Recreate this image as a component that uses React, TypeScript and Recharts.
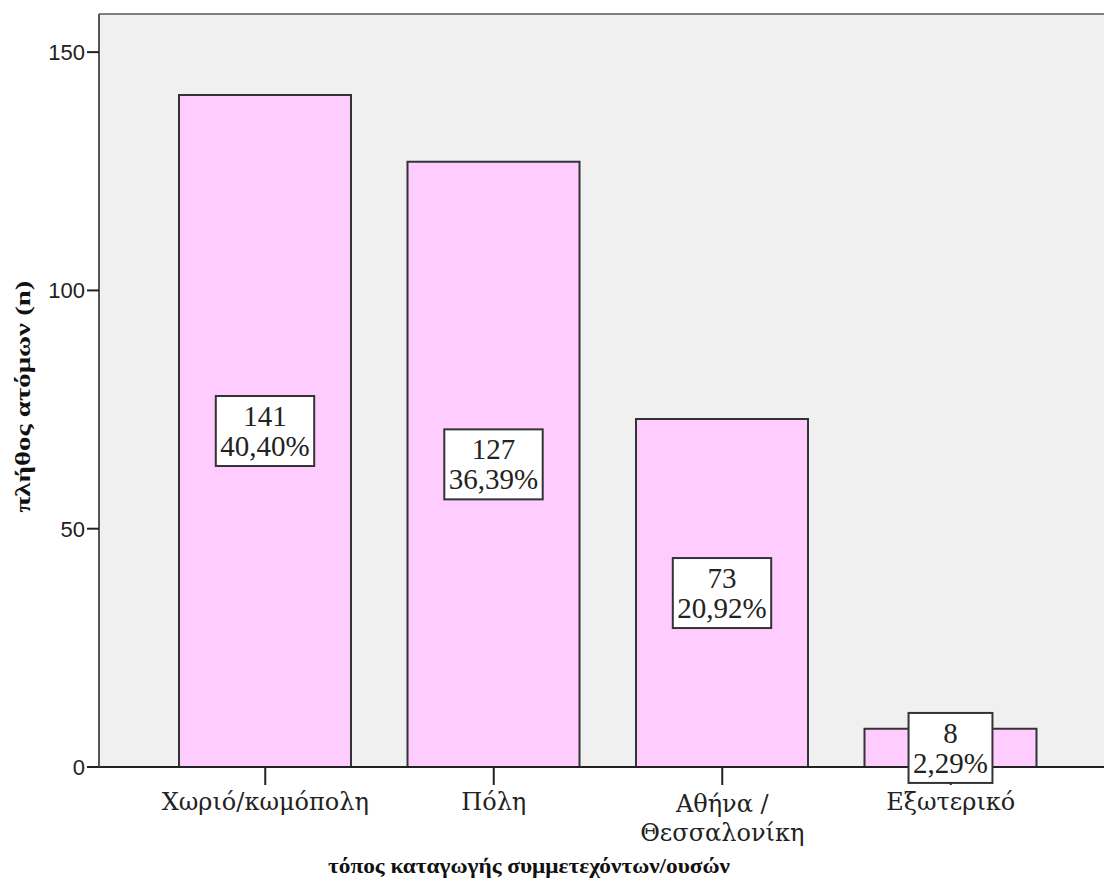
import React from "react";
import { BarChart, Bar, XAxis, YAxis, CartesianGrid, LabelList, Label, ReferenceLine } from "recharts";

// values
const categories = ["Χωριό/κωμόπολη", "Πόλη", "Αθήνα /\nΘεσσαλονίκη", "Εξωτερικό"];
const counts = [141, 127, 73, 8];
const percents = ["40,40%", "36,39%", "20,92%", "2,29%"];
const yTicks = [0, 50, 100, 150];

const data = categories.map((c, i) => ({ place: c, n: counts[i], pct: percents[i] }));

const SERIF = "'Liberation Serif', 'Times New Roman', serif";
const WIDE_SERIF = "'DejaVu Serif', 'Liberation Serif', serif";
const NARROW = "'Liberation Sans Narrow', 'Arial Narrow', Arial, sans-serif";
const LABEL_FS = 29;

/* rough Times metrics, good enough to size the label boxes */
function textWidth(s: string, fs: number) {
  let w = 0;
  for (const ch of s) w += ch === "," ? 0.25 : ch === "%" ? 0.833 : 0.5;
  return w * fs;
}

function CategoryTick(props: any) {
  const { x, y, payload } = props;
  const lines = String(payload.value).split("\n");
  const first = lines.length > 1 ? 27 : 25;
  return (
    <g>
      {lines.map((l, i) => (
        <text key={i} x={x} y={y + first + i * 29} textAnchor="middle" fontFamily={WIDE_SERIF} fontSize={24} fill="#222">
          {l}
        </text>
      ))}
    </g>
  );
}

function BoxLabel(props: any) {
  const { x, y, width, height, index } = props;
  const row = data[index] ?? data.find(d => d.n === props.value);
  if (!row) return null;
  const cx = Number(x) + Number(width) / 2;
  const cy = Number(y) + Number(height) / 2;
  const w = Math.max(textWidth(String(row.n), LABEL_FS), textWidth(row.pct, LABEL_FS)) + 9;
  return (
    <g>
      <rect x={cx - w / 2} y={cy - 35} width={w} height={70} fill="#fff" stroke="#333" strokeWidth={2} />
      <text x={cx} y={cy - 5} textAnchor="middle" fontFamily={SERIF} fontSize={LABEL_FS} fill="#222">{row.n}</text>
      <text x={cx} y={cy + 25} textAnchor="middle" fontFamily={SERIF} fontSize={LABEL_FS} fill="#222">{row.pct}</text>
    </g>
  );
}

export default function App() {
  return (
    <div style={{ position: "absolute", left: 0, top: 0, width: 1104, height: 893, background: "#fff" }}>
      <BarChart width={1104} height={893} data={data} margin={{ top: 14, right: 0, bottom: 36, left: 0 }}>
        <CartesianGrid fill="#f0f0f0" horizontal={false} vertical={false} />
        <ReferenceLine y={158} stroke="#808080" strokeWidth={2} ifOverflow="extendDomain" />
        <XAxis
          dataKey="place"
          padding={{ left: 52, right: 39 }}
          axisLine={false}
          tickLine={{ stroke: "#222", strokeWidth: 2 }}
          tickSize={18}
          tickMargin={0}
          height={90}
          interval={0}
          tick={<CategoryTick />}
        >
          <Label
            content={() => (
              <text x={529} y={873} textAnchor="middle" fontFamily={SERIF} fontWeight="bold" fontSize={21}
                textLength={402} lengthAdjust="spacingAndGlyphs" fill="#111">
                τόπος καταγωγής συμμετεχόντων/ουσών
              </text>
            )}
          />
        </XAxis>
        <YAxis
          width={99}
          domain={[0, 158]}
          ticks={yTicks}
          axisLine={{ stroke: "#555", strokeWidth: 2 }}
          tickLine={{ stroke: "#222", strokeWidth: 2 }}
          tickSize={12}
          tickMargin={2}
          tick={{ fontFamily: NARROW, fontSize: 22, fill: "#222" }}
        >
          <Label
            content={(p: any) => {
              const vb = p.viewBox || {};
              const cy = (vb.y ?? 14) + (vb.height ?? 753) / 2 + 6;
              return (
                <text x={30} y={cy} transform={`rotate(-90, 30, ${cy})`} textAnchor="middle" fontFamily={SERIF}
                  fontWeight="bold" fontSize={21} textLength={232} lengthAdjust="spacingAndGlyphs" fill="#111">
                  πλήθος ατόμων (n)
                </text>
              );
            }}
          />
        </YAxis>
        <Bar dataKey="n" fill="#ffccff" stroke="#333" strokeWidth={2} barSize={172} isAnimationActive={false}>
          <LabelList dataKey="n" content={<BoxLabel />} />
        </Bar>
        <ReferenceLine y={0} stroke="#222" strokeWidth={2} />
      </BarChart>
    </div>
  );
}
